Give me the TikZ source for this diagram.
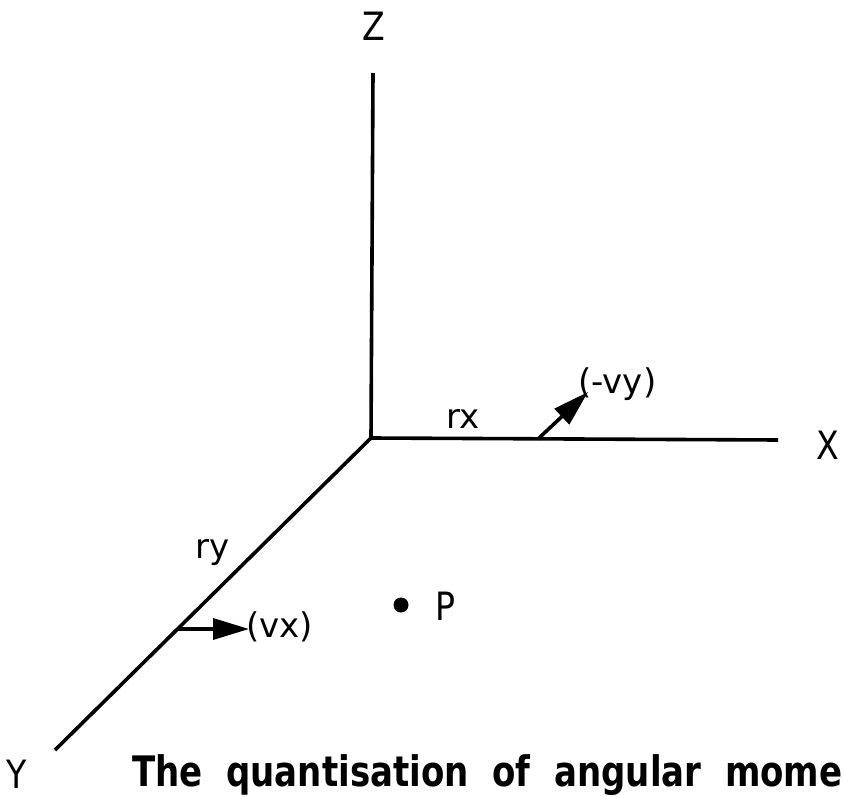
\documentclass[tikz,border=0pt]{standalone}
\usepackage{fontspec}
\setmainfont{DejaVu Sans}
\usetikzlibrary{arrows.meta}
\begin{document}
\begin{tikzpicture}[x=1pt,y=-1pt,
  axis/.style={line width=3.6pt},
  vec/.style={line width=3.6pt,-{Triangle[length=36pt,width=21pt]}},
  lbl/.style={font=\fontsize{34}{40}\selectfont,inner sep=0pt},
  biglbl/.style={font=\fontsize{39}{44}\selectfont,inner sep=0pt},
  captxt/.style={font=\bfseries\fontsize{42}{48}\selectfont,inner sep=0pt}]
\useasboundingbox (0,0) rectangle (844,797);
\coordinate (O) at (371,438);
\coordinate (Zend) at (373,73);
\coordinate (Xend) at (778,440);
\coordinate (Yend) at (55,750);
\draw[axis] (O) -- (Zend);
\draw[axis] (O) -- (Xend);
\draw[axis] (O) -- (Yend);
\node[biglbl,xscale=0.85,transform shape] (Z) at (374,26) {Z};
\node[biglbl,xscale=0.85,transform shape] (X) at (828,445) {X};
\node[biglbl,xscale=0.85,transform shape] (Y) at (17,774) {Y};
\node[lbl] (rx) at (463,419) {rx};
\node[lbl] (ry) at (213,553) {ry};
\coordinate (vyS) at (538,439);
\coordinate (vyT) at (588,392);
\draw[vec] (vyS) -- (vyT);
\node[lbl,anchor=west] (vy) at (578,384) {(-vy)};
\coordinate (vxS) at (178,629);
\coordinate (vxT) at (249,629);
\draw[vec] (vxS) -- (vxT);
\node[lbl,anchor=west] (vx) at (246,627) {(vx)};
\fill (401,605) circle (7.5pt) coordinate (P);
\node[biglbl,anchor=west,xscale=0.85,transform shape] (Plbl) at (435,606) {P};
\node[captxt,anchor=base west,xscale=0.81,transform shape] (caption) at (132,786) {The\ \ quantisation\ \ of\ \ angular\ \ mome};
\end{tikzpicture}
\end{document}
